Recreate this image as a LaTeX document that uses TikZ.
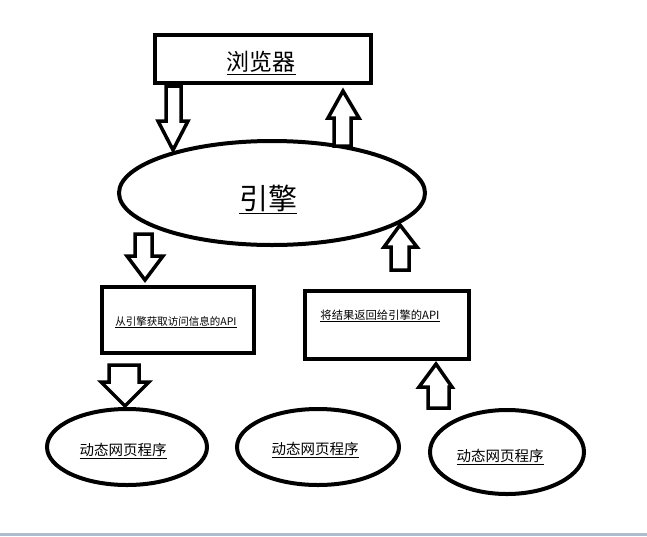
\documentclass[tikz,border=0pt]{standalone}
\usepackage{fontspec}
\newfontfamily\cjk{Noto Sans CJK SC}
\usetikzlibrary{shapes.geometric}
\definecolor{stripcol}{HTML}{AFBCCE}
\tikzset{
  boxnode/.style={draw=black, line width=4.5pt, inner sep=0pt},
  ellnode/.style={draw=black, ellipse, line width=4pt, inner sep=0pt},
  blockarrow/.style={draw=black, fill=white, line width=3.5pt, line join=miter},
  lbl/.style={font=\cjk, text=black, inner sep=0pt}
}
\begin{document}
\begin{tikzpicture}[x=1pt,y=-1pt]
\useasboundingbox (0,0) rectangle (647,536);
\fill[white] (0,0) rectangle (647,536);
\fill[stripcol] (0,533) rectangle (647,536);

% boxes
\node[boxnode, minimum width=216pt, minimum height=48pt] (browser) at (263,59) {};
\node[lbl, font=\cjk\fontsize{23}{23}\selectfont] (browsert) at (261,63) {\underline{浏览器}};

\node[ellnode, minimum width=306pt, minimum height=104pt] (engine) at (272,193) {};
\node[lbl, font=\cjk\fontsize{29}{29}\selectfont] (enginet) at (268,199) {\underline{引擎}};

\node[boxnode, minimum width=152pt, minimum height=66pt] (getapi) at (178,320) {};
\node[lbl, font=\cjk\fontsize{10.5}{10.5}\selectfont] (getapit) at (176,322) {\underline{从引擎获取访问信息的API}};

\node[boxnode, minimum width=164pt, minimum height=68pt] (retapi) at (387,325) {};
\node[lbl, font=\cjk\fontsize{11.3}{11.3}\selectfont] (retapit) at (380,316) {\underline{将结果返回给引擎的API}};

\node[ellnode, minimum width=160pt, minimum height=76pt] (dyn1) at (127,447) {};
\node[lbl, font=\cjk\fontsize{14.5}{14.5}\selectfont] (dyn1t) at (123,451) {\underline{动态网页程序}};

\node[ellnode, minimum width=162pt, minimum height=76pt] (dyn2) at (318,447) {};
\node[lbl, font=\cjk\fontsize{14.5}{14.5}\selectfont] (dyn2t) at (315,450) {\underline{动态网页程序}};

\node[ellnode, minimum width=154pt, minimum height=84pt] (dyn3) at (507,452) {};
\node[lbl, font=\cjk\fontsize{14.5}{14.5}\selectfont] (dyn3t) at (500,457) {\underline{动态网页程序}};

% block arrows
% browser -> engine (down)
\draw[blockarrow] (166,86) -- (181,86) -- (181,121) -- (188,121) -- (173,150) -- (158,121) -- (166,121) -- cycle;
% engine -> browser (up)
\draw[blockarrow] (334,146) -- (351,146) -- (351,118) -- (359,118) -- (343,91) -- (328,118) -- (334,118) -- cycle;
% engine -> getapi (down)
\draw[blockarrow] (135,234) -- (152,234) -- (152,256) -- (163,256) -- (145,280) -- (127,256) -- (135,256) -- cycle;
% retapi -> engine (up)
\draw[blockarrow] (391,270) -- (409,270) -- (409,247) -- (417,247) -- (400,225) -- (384,247) -- (391,247) -- cycle;
% getapi -> dyn1 (down)
\draw[blockarrow] (109,365) -- (139,365) -- (139,382) -- (149,382) -- (125,406) -- (101,382) -- (109,382) -- cycle;
% dyn3 -> retapi (up)
\draw[blockarrow] (428,408) -- (449,408) -- (449,387) -- (452,387) -- (436,364) -- (419,387) -- (428,387) -- cycle;
\end{tikzpicture}
\end{document}
